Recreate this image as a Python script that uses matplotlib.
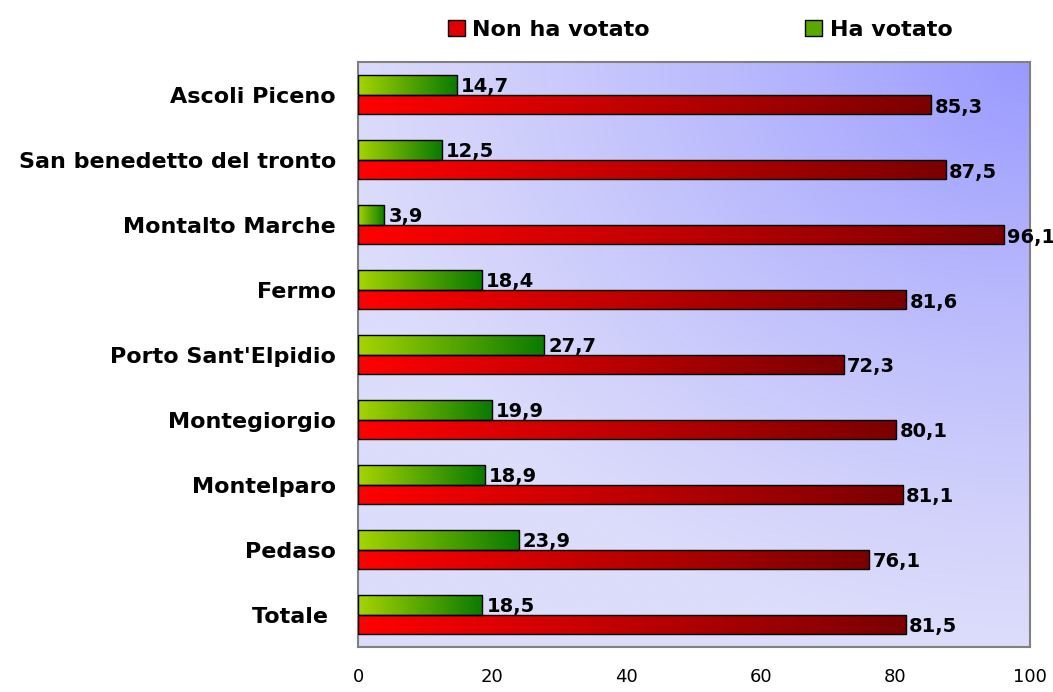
import numpy as np
import matplotlib
matplotlib.use("Agg")
import matplotlib.pyplot as plt
from matplotlib.patches import Patch
from matplotlib.colors import LinearSegmentedColormap

# dati
comuni = ["Ascoli Piceno", "San benedetto del tronto", "Montalto Marche", "Fermo",
          "Porto Sant'Elpidio", "Montegiorgio", "Montelparo", "Pedaso", "Totale "]
ha_votato = [14.7, 12.5, 3.9, 18.4, 27.7, 19.9, 18.9, 23.9, 18.5]
non_ha_votato = [85.3, 87.5, 96.1, 81.6, 72.3, 80.1, 81.1, 76.1, 81.5]
xticks = [0, 20, 40, 60, 80, 100]

plt.rcParams['font.family'] = ['DejaVu Sans']

cmap_green = LinearSegmentedColormap.from_list("g", ["#a6d400", "#0a7a00"])
cmap_red = LinearSegmentedColormap.from_list("r", ["#ff0000", "#7a0000"])
cmap_bg = LinearSegmentedColormap.from_list("bg", ["#dcdcfb", "#9a9aff"])

fig = plt.figure(figsize=(10.53, 6.92), dpi=100)
ax = fig.add_axes([0.34, 0.065, 0.638, 0.845])

n = len(comuni)
ax.set_xlim(0, 100)
ax.set_ylim(n - 0.5, -0.5)

# sfondo sfumato
u, v = np.meshgrid(np.linspace(0, 1, 300), np.linspace(1, 0, 300))
d = np.sqrt((1 - u) ** 2 * 0.9 + (1 - v) ** 2)
t = np.clip(1 - d / 1.0, 0, 1) ** 1.2
ax.imshow(t, cmap=cmap_bg, extent=[0, 100, n - 0.5, -0.5], aspect='auto',
          zorder=0, vmin=0, vmax=1)

h = 0.3
grad = np.linspace(0, 1, 256).reshape(1, -1)


def gradient_bar(y, val, cmap):
    bar = ax.barh(y, val, height=h, facecolor='none', edgecolor='black',
                  linewidth=1.0, zorder=3)[0]
    img = ax.imshow(grad, cmap=cmap, aspect='auto', zorder=2,
                    extent=[0, val, y + h / 2, y - h / 2])
    img.set_clip_path(bar)


for i in range(n):
    yg = i - h / 2
    yr = i + h / 2
    gradient_bar(yg, ha_votato[i], cmap_green)
    gradient_bar(yr, non_ha_votato[i], cmap_red)
    ax.text(ha_votato[i] + 0.6, yg + 0.02, f"{ha_votato[i]:.1f}".replace('.', ','),
            va='center', ha='left', fontsize=14, fontweight='bold', zorder=4)
    ax.text(non_ha_votato[i] + 0.5, yr + 0.04, f"{non_ha_votato[i]:.1f}".replace('.', ','),
            va='center', ha='left', fontsize=14, fontweight='bold', zorder=4)

ax.set_yticks(range(n))
ax.set_yticklabels(comuni, fontsize=16, fontweight='bold')
ax.set_xticks(xticks)
ax.set_xticklabels([str(x) for x in xticks], fontsize=13)
ax.tick_params(axis='both', length=0)
ax.tick_params(axis='y', pad=16)
ax.tick_params(axis='x', pad=15)
for s in ax.spines.values():
    s.set_color('#808080')
    s.set_linewidth(1.5)

handles = [Patch(facecolor='#e00000', edgecolor='black', label='Non ha votato'),
           Patch(facecolor='#5aa800', edgecolor='black', label='Ha votato')]
fig.legend(handles=handles, loc='center', bbox_to_anchor=(0.665, 0.957), ncol=2,
           frameon=False, handlelength=0.75, handleheight=0.75, handletextpad=0.35,
           columnspacing=7.0, prop={'size': 16, 'weight': 'bold'})

fig.savefig("out.png", dpi=100)
